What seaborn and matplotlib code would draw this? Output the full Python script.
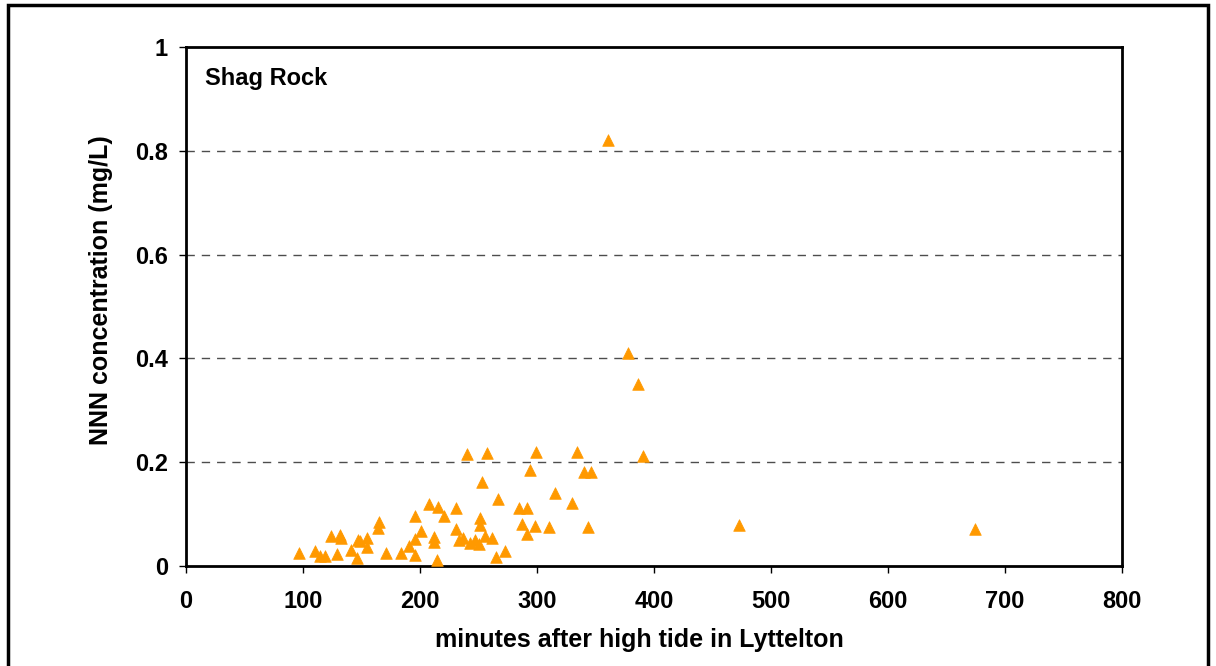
import matplotlib
matplotlib.use("Agg")
import matplotlib.pyplot as plt
import seaborn as sns
import pandas as pd
from matplotlib.patches import Rectangle

minutes = [96.7, 110.4, 114.4, 118.4, 124.1, 128.7, 131.5, 132.9, 140.6, 145.8,
           147.1, 148.8, 154.8, 154.8, 165.0, 164.5, 170.8, 183.6, 190.7, 195.5,
           195.5, 195.5, 200.6, 207.7, 211.7, 211.7, 214.9, 215.7, 220.9, 230.5,
           230.5, 233.1, 236.5, 240.5, 242.5, 246.8, 250.4, 251.0, 251.0, 253.3,
           255.3, 257.6, 261.7, 265.3, 266.4, 272.4, 284.6, 287.5, 291.6, 291.6,
           293.7, 298.8, 298.6, 310.2, 315.1, 330.2, 334.3, 340.3, 343.3, 346.4,
           360.3, 377.4, 386.0, 391.0, 473.0, 674.5]
nnn = [0.025, 0.029, 0.020, 0.020, 0.058, 0.023, 0.060, 0.053, 0.031, 0.016,
       0.050, 0.049, 0.053, 0.037, 0.084, 0.073, 0.025, 0.025, 0.039, 0.052,
       0.022, 0.096, 0.068, 0.119, 0.056, 0.047, 0.012, 0.114, 0.096, 0.111,
       0.071, 0.050, 0.053, 0.215, 0.045, 0.050, 0.042, 0.092, 0.079, 0.161,
       0.057, 0.218, 0.053, 0.018, 0.130, 0.029, 0.111, 0.081, 0.062, 0.112,
       0.185, 0.220, 0.077, 0.076, 0.141, 0.121, 0.220, 0.181, 0.076, 0.181,
       0.821, 0.410, 0.351, 0.211, 0.079, 0.071]

x_ticks = [0, 100, 200, 300, 400, 500, 600, 700, 800]
y_ticks = [0, 0.2, 0.4, 0.6, 0.8, 1]
y_tick_labels = ["0", "0.2", "0.4", "0.6", "0.8", "1"]

sns.set_theme(style="white")
plt.rcParams['font.family'] = ['Liberation Sans', 'DejaVu Sans']
plt.rcParams['font.weight'] = 'bold'
plt.rcParams['text.color'] = 'black'
plt.rcParams['axes.labelcolor'] = 'black'
plt.rcParams['xtick.color'] = 'black'
plt.rcParams['ytick.color'] = 'black'

df = pd.DataFrame({"minutes": minutes, "nnn": nnn})

fig = plt.figure(figsize=(12.16, 6.66), dpi=100)
ax = fig.add_axes([186/1216, 1-566/666, (1122-186)/1216, (566-47)/666])

sns.scatterplot(data=df, x="minutes", y="nnn", marker="^", s=70,
                color="#FF9900", edgecolor="#FF9900", linewidth=0.5, ax=ax, zorder=3)

ax.set_xlim(0, 800)
ax.set_ylim(0, 1)
ax.set_xticks(x_ticks)
ax.set_xticklabels([str(t) for t in x_ticks], fontsize=17, fontweight='bold', color='black')
ax.set_yticks(y_ticks)
ax.set_yticklabels(y_tick_labels, fontsize=17, fontweight='bold', color='black')
for yv in y_ticks[1:-1]:
    ax.axhline(yv, color="#4d4d4d", linestyle=(0, (6, 5)), linewidth=1, zorder=1)

for s in ax.spines.values():
    s.set_visible(True)
    s.set_color("black")
    s.set_linewidth(2)
ax.tick_params(axis='both', direction='out', length=5, width=1, color='black',
               bottom=True, left=True)
ax.tick_params(axis='x', pad=12)
ax.tick_params(axis='y', pad=8)

ax.set_xlabel("minutes after high tide in Lyttelton", fontsize=18, fontweight='bold', color='black')
ax.xaxis.set_label_coords((639-186)/936, -(640-566)/519, transform=ax.transAxes)
ax.xaxis.label.set_va('center')
ax.set_ylabel("NNN concentration (mg/L)", fontsize=18, fontweight='bold', color='black')
ax.yaxis.set_label_coords(-(186-101)/936, (566-290)/519, transform=ax.transAxes)
ax.yaxis.label.set_va('center')
ax.text(19/936, 1-(78-47)/519, "Shag Rock", transform=ax.transAxes, fontsize=17, fontweight='bold',
        va='center', ha='left', color='black')

fig.patches.append(Rectangle((8/1216, -0.1), 1200/1216, 1.1 - 5/666, transform=fig.transFigure,
                             fill=False, edgecolor='black', linewidth=2.5, zorder=10))

fig.savefig("out.png", dpi=100)
